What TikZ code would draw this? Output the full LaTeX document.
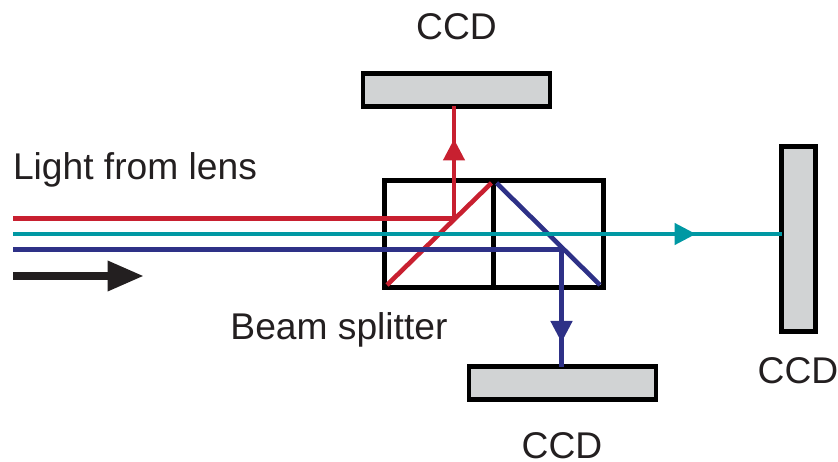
\documentclass[tikz,border=0pt]{standalone}
\usepackage{fontspec}
\setmainfont{Liberation Sans}
\usetikzlibrary{arrows.meta}
\definecolor{cred}{RGB}{200,32,48}
\definecolor{cteal}{RGB}{0,152,163}
\definecolor{cblue}{RGB}{46,49,135}
\definecolor{cgray}{RGB}{209,211,212}
\definecolor{cblack}{RGB}{35,31,32}
\tikzset{
 ccdbox/.style={draw=black,fill=cgray,line width=4.8pt,inner sep=0pt,outer sep=0pt},
 cube/.style={draw=black,line width=4.8pt},
 ray/.style={line width=4.6pt},
 tip/.style={-{Triangle[length=21.5pt,width=21pt]}},
 lab/.style={inner sep=0pt,text=cblack,font=\fontsize{37.2}{42}\selectfont},
}
\begin{document}
\begin{tikzpicture}[x=1pt,y=-1pt]
\useasboundingbox (0,0) rectangle (838,462);
\node[lab] (t1) at (456.5,27) {CCD};
\node[lab] (t2) at (135,170) {Light from lens};
\node[lab] (t3) at (339,330) {Beam splitter};
\node[lab] (t4) at (562,446) {CCD};
\node[lab] (t5) at (798,371) {CCD};
\coordinate (redS) at (13,218.3);
\coordinate (redM) at (454,218.3);
\coordinate (tealS) at (13,234);
\coordinate (tealA) at (696,234);
\coordinate (blueS) at (13,249.3);
\coordinate (blueM) at (561.5,249.3);
\coordinate (cTL) at (384.3,180.5);
\coordinate (cBR) at (603.3,287.5);
\coordinate (cTM) at (493.5,180.5);
\coordinate (cBM) at (493.5,287.5);
\coordinate (rA) at (387,285);
\coordinate (rB) at (491.5,183);
\coordinate (bA) at (496.5,183);
\coordinate (bB) at (600,285);
\node[ccdbox,minimum width=187pt,minimum height=33pt] (c1) at (456.5,90) {};
\node[ccdbox,minimum width=187pt,minimum height=33pt] (c2) at (562.5,383) {};
\node[ccdbox,minimum width=33.4pt,minimum height=184.7pt] (c3) at (798.5,239.2) {};
\draw[cube] (cTL) rectangle (cBR);
\draw[cube] (cTM) -- (cBM);
\draw[ray,cred] (redS) -- (redM);
\draw[ray,cred] (rA) -- (rB);
\draw[ray,cred] (redM) -- (c1.south -| redM);
\draw[ray,cred,tip] (redM) -- (454,139);
\draw[ray,cblue] (bA) -- (bB);
\draw[ray,cblue] (blueS) -- (blueM) -- (c2.north -| blueM);
\draw[ray,cblue,tip] (blueM) -- (561.5,342.5);
\draw[ray,cteal] (tealS) -- (c3.west |- tealS);
\draw[ray,cteal,tip] (tealS) -- (tealA);
\coordinate (aS) at (13,276);
\coordinate (aE) at (144,276);
\draw[line width=8.2pt,cblack,-{Triangle[length=36.5pt,width=28.5pt]}] (aS) -- (aE);
\end{tikzpicture}
\end{document}
